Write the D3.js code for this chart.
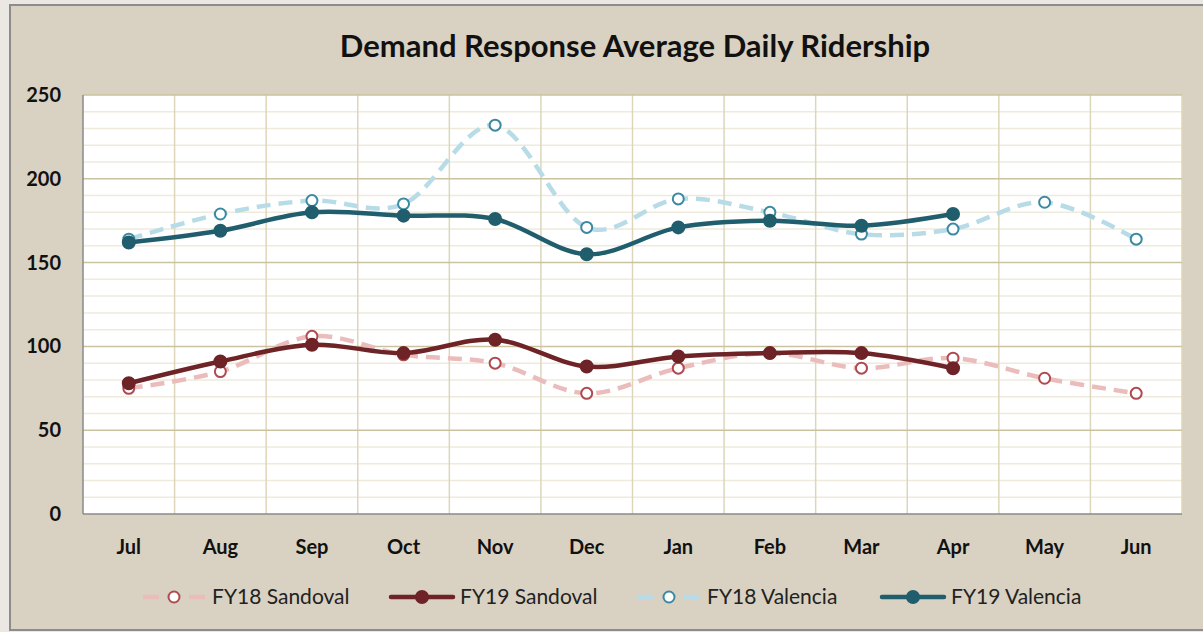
<!DOCTYPE html>
<html>
<head>
<meta charset="utf-8">
<script src="https://cdn.jsdelivr.net/npm/d3@7"></script>
<style>
  body { margin: 0; background: #ebe8e3; }
  svg { display: block; }
</style>
</head>
<body>
<script>
const width = 1203
const height = 632

const months = ["Jul", "Aug", "Sep", "Oct", "Nov", "Dec", "Jan", "Feb", "Mar", "Apr", "May", "Jun"]
const yTicks = [0, 50, 100, 150, 200, 250]

const fy18Sandoval = [75, 85, 106, 95, 90, 72, 87, 96, 87, 93, 81, 72]
const fy19Sandoval = [78, 91, 101, 96, 104, 88, 94, 96, 96, 87]
const fy18Valencia = [164, 179, 187, 185, 232, 171, 188, 180, 167, 170, 186, 164]
const fy19Valencia = [162, 169, 180, 178, 176, 155, 171, 175, 172, 179]

const series = [
  { name: "FY18 Sandoval", values: fy18Sandoval, line: "#ebbcbc", marker: "#b04a50", dashed: true },
  { name: "FY19 Sandoval", values: fy19Sandoval, line: "#6e2327", marker: "#6e2327", dashed: false },
  { name: "FY18 Valencia", values: fy18Valencia, line: "#b7dce7", marker: "#3a8aa3", dashed: true },
  { name: "FY19 Valencia", values: fy19Valencia, line: "#215e6d", marker: "#215e6d", dashed: false },
]

const plot = { left: 83, right: 1182, top: 95, bottom: 514 }
const font = "Lato, 'Open Sans', sans-serif"

const svg = d3.select("body").append("svg")
  .attr("width", width)
  .attr("height", height)

// chart frame
svg.append("rect")
  .attr("x", 10).attr("y", 5)
  .attr("width", 1200).attr("height", 625)
  .attr("fill", "#d9d1c1")
  .attr("stroke", "#8c8c8c")
  .attr("stroke-width", 2)

svg.append("text")
  .attr("x", 635).attr("y", 57)
  .attr("text-anchor", "middle")
  .attr("font-family", font)
  .attr("font-weight", "bold")
  .attr("font-size", 31)
  .attr("fill", "#111")
  .text("Demand Response Average Daily Ridership")

const x = d3.scaleBand().domain(months).range([plot.left, plot.right])
const y = d3.scaleLinear().domain([0, 250]).range([plot.bottom, plot.top])

svg.append("rect")
  .attr("x", plot.left).attr("y", plot.top)
  .attr("width", plot.right - plot.left)
  .attr("height", plot.bottom - plot.top)
  .attr("fill", "#fff")

// minor horizontal grid every 10
svg.append("g").selectAll("line")
  .data(d3.range(10, 250, 10).filter(d => d % 50 !== 0))
  .enter().append("line")
  .attr("x1", plot.left).attr("x2", plot.right)
  .attr("y1", d => y(d)).attr("y2", d => y(d))
  .attr("stroke", "#eeeadc")
  .attr("stroke-width", 1.5)

// vertical grid at category boundaries
svg.append("g").selectAll("line")
  .data(months.slice(1).concat(["end"]))
  .enter().append("line")
  .attr("x1", (d, i) => i < months.length - 1 ? x(d) : plot.right)
  .attr("x2", (d, i) => i < months.length - 1 ? x(d) : plot.right)
  .attr("y1", plot.top).attr("y2", plot.bottom)
  .attr("stroke", "#ddd6ba")
  .attr("stroke-width", 1.5)

// major horizontal grid
svg.append("g").selectAll("line")
  .data(yTicks.slice(1))
  .enter().append("line")
  .attr("x1", plot.left).attr("x2", plot.right)
  .attr("y1", d => y(d)).attr("y2", d => y(d))
  .attr("stroke", "#cbc29f")
  .attr("stroke-width", 1.5)

// axes lines
svg.append("line")
  .attr("x1", plot.left).attr("x2", plot.left)
  .attr("y1", plot.top).attr("y2", plot.bottom)
  .attr("stroke", "#8a8a8a").attr("stroke-width", 1.5)
svg.append("line")
  .attr("x1", plot.left).attr("x2", plot.right)
  .attr("y1", plot.bottom).attr("y2", plot.bottom)
  .attr("stroke", "#8a8a8a").attr("stroke-width", 1.5)

// y labels
svg.append("g").selectAll("text")
  .data(yTicks)
  .enter().append("text")
  .attr("x", 61)
  .attr("y", d => y(d) + 7)
  .attr("text-anchor", "end")
  .attr("font-family", font)
  .attr("font-weight", "bold")
  .attr("font-size", 20)
  .attr("fill", "#111")
  .text(d => d)

// x labels
svg.append("g").selectAll("text")
  .data(months)
  .enter().append("text")
  .attr("x", d => x(d) + x.bandwidth() / 2)
  .attr("y", 554)
  .attr("text-anchor", "middle")
  .attr("font-family", font)
  .attr("font-weight", "bold")
  .attr("font-size", 20)
  .attr("fill", "#111")
  .text(d => d)

const line = d3.line()
  .x((d, i) => x(months[i]) + x.bandwidth() / 2)
  .y(d => y(d))
  .curve(d3.curveCardinal.tension(0))

const order = [2, 0, 3, 1]
order.forEach(k => {
  const s = series[k]
  const g = svg.append("g")
  g.append("path")
    .datum(s.values)
    .attr("d", line)
    .attr("fill", "none")
    .attr("stroke", s.line)
    .attr("stroke-width", 4.5)
    .attr("stroke-linecap", s.dashed ? "butt" : "round")
    .attr("stroke-dasharray", s.dashed ? "14,8" : null)
  g.selectAll("circle")
    .data(s.values)
    .enter().append("circle")
    .attr("cx", (d, i) => x(months[i]) + x.bandwidth() / 2)
    .attr("cy", d => y(d))
    .attr("r", s.dashed ? 5.5 : 6)
    .attr("fill", s.dashed ? "#fff" : s.marker)
    .attr("stroke", s.marker)
    .attr("stroke-width", 2)
})

// legend
const legendX = [143, 391, 638, 882]
const legend = svg.append("g")
series.forEach((s, i) => {
  const lx = legendX[i]
  const ly = 597
  if (s.dashed) {
    legend.append("line")
      .attr("x1", lx).attr("x2", lx + 16).attr("y1", ly).attr("y2", ly)
      .attr("stroke", s.line).attr("stroke-width", 4.5)
    legend.append("line")
      .attr("x1", lx + 46).attr("x2", lx + 62).attr("y1", ly).attr("y2", ly)
      .attr("stroke", s.line).attr("stroke-width", 4.5)
  } else {
    legend.append("line")
      .attr("x1", lx).attr("x2", lx + 62).attr("y1", ly).attr("y2", ly)
      .attr("stroke", s.line).attr("stroke-width", 4.5)
      .attr("stroke-linecap", "round")
  }
  legend.append("circle")
    .attr("cx", lx + 31).attr("cy", ly)
    .attr("r", s.dashed ? 5.5 : 6)
    .attr("fill", s.dashed ? "#fff" : s.marker)
    .attr("stroke", s.marker)
    .attr("stroke-width", 2)
  legend.append("text")
    .attr("x", lx + 69).attr("y", ly + 7)
    .attr("font-family", font)
    .attr("font-size", 21)
    .attr("fill", "#222")
    .text(s.name)
})
</script>
</body>
</html>
